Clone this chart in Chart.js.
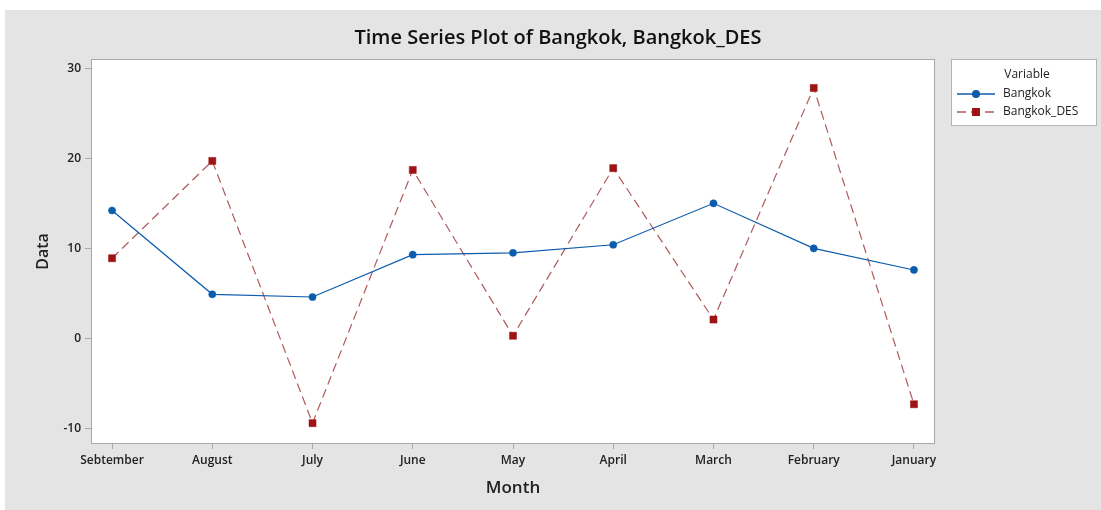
<!DOCTYPE html>
<html>
<head>
<meta charset="utf-8">
<script src="https://cdn.jsdelivr.net/npm/chart.js@4"></script>
<style>
  body { margin: 0; background: #fff; }
  #wrap { position: absolute; left: 5px; top: 10px; width: 1096px; height: 500px; background: #e4e4e4; }
</style>
</head>
<body>
<div id="wrap"><canvas id="myChart" width="1096" height="500"></canvas></div>
<script>
const months = ["Sebtember", "August", "July", "June", "May", "April", "March", "February", "January"];
const bangkok = [14.2, 4.9, 4.6, 9.3, 9.5, 10.4, 15.0, 10.0, 7.6];
const bangkokDes = [8.9, 19.7, -9.4, 18.7, 0.3, 18.9, 2.1, 27.8, -7.3];
const yTicks = [-10, 0, 10, 20, 30];

const FONT = "'Open Sans', sans-serif";
const blue = "#0b5cad";
const red = "#9e1414";
const redLine = "#b05a5a";

// white plot area + grey frame
const plotFrame = {
  id: "plotFrame",
  beforeDraw(chart) {
    const { ctx, chartArea: a } = chart;
    ctx.save();
    ctx.fillStyle = "#fff";
    ctx.fillRect(a.left, a.top, a.right - a.left, a.bottom - a.top);
    ctx.strokeStyle = "#a8a8a8";
    ctx.lineWidth = 1;
    ctx.strokeRect(a.left - 0.5, a.top - 0.5, a.right - a.left + 1, a.bottom - a.top + 1);
    ctx.restore();
  }
};

// title and legend box
const extras = {
  id: "extras",
  afterDraw(chart) {
    const ctx = chart.ctx;
    ctx.save();
    ctx.fillStyle = "#111";
    ctx.font = "600 20px " + FONT;
    ctx.textAlign = "center";
    ctx.textBaseline = "middle";
    ctx.fillText("Time Series Plot of Bangkok, Bangkok_DES", 553, 28);

    // legend
    ctx.fillStyle = "#fff";
    ctx.fillRect(947, 50, 144, 65);
    ctx.strokeStyle = "#b4b4b4";
    ctx.strokeRect(946.5, 49.5, 145, 66);
    ctx.fillStyle = "#222";
    ctx.font = "12px " + FONT;
    ctx.fillText("Variable", 1022, 65);
    ctx.textAlign = "left";
    ctx.fillText("Bangkok", 998, 84);
    ctx.fillText("Bangkok_DES", 998, 102);

    ctx.strokeStyle = blue;
    ctx.lineWidth = 1.3;
    ctx.beginPath(); ctx.moveTo(952, 84); ctx.lineTo(990, 84); ctx.stroke();
    ctx.fillStyle = blue;
    ctx.beginPath(); ctx.arc(971, 84, 4, 0, Math.PI * 2); ctx.fill();

    ctx.strokeStyle = redLine;
    ctx.setLineDash([9, 5]);
    ctx.beginPath(); ctx.moveTo(952, 102); ctx.lineTo(990, 102); ctx.stroke();
    ctx.setLineDash([]);
    ctx.fillStyle = red;
    ctx.fillRect(967, 98, 8, 8);
    ctx.restore();
  }
};

new Chart(document.getElementById("myChart"), {
  type: "line",
  data: {
    datasets: [
      {
        label: "Bangkok",
        data: bangkok.map((v, i) => ({ x: i, y: v })),
        borderColor: blue,
        backgroundColor: blue,
        borderWidth: 1.2,
        pointRadius: 3.6,
        pointBorderWidth: 0.5,
        pointStyle: "circle",
        tension: 0
      },
      {
        label: "Bangkok_DES",
        data: bangkokDes.map((v, i) => ({ x: i, y: v })),
        borderColor: redLine,
        backgroundColor: red,
        pointBorderColor: red,
        borderWidth: 1.2,
        borderDash: [9, 5],
        pointRadius: 5,
        pointBorderWidth: 0.5,
        pointStyle: "rect",
        tension: 0
      }
    ]
  },
  options: {
    responsive: false,
    animation: false,
    layout: { padding: { left: 0, top: 50, right: 167, bottom: 0 } },
    plugins: {
      legend: { display: false },
      title: { display: false },
      tooltip: { enabled: false }
    },
    scales: {
      x: {
        type: "linear",
        min: -0.2,
        max: 8.2,
        afterBuildTicks: (s) => { s.ticks = months.map((m, i) => ({ value: i })); },
        afterFit: (s) => { s.height = 67; },
        grid: { drawOnChartArea: false, drawTicks: true, tickLength: 6, color: "#a8a8a8" },
        border: { display: false },
        ticks: {
          callback: (v) => months[v],
          color: "#222",
          font: { family: FONT, size: 12, weight: "600" },
          padding: 4,
          maxRotation: 0,
          autoSkip: false
        },
        title: {
          display: true,
          text: "Month",
          color: "#222",
          font: { family: FONT, size: 17, weight: "600" },
          padding: { top: 0, bottom: 12 }
        }
      },
      y: {
        min: -11.6,
        max: 30.9,
        afterBuildTicks: (s) => { s.ticks = yTicks.map((v) => ({ value: v })); },
        afterFit: (s) => { s.width = 87; },
        grid: { drawOnChartArea: false, drawTicks: true, tickLength: 7, color: "#a8a8a8" },
        border: { display: false },
        ticks: {
          color: "#222",
          font: { family: FONT, size: 12, weight: "600" },
          padding: 4
        },
        title: {
          display: true,
          text: "Data",
          color: "#222",
          font: { family: FONT, size: 16, weight: "600" },
          padding: { top: 29, bottom: 0 }
        }
      }
    }
  },
  plugins: [plotFrame, extras]
});
</script>
</body>
</html>
